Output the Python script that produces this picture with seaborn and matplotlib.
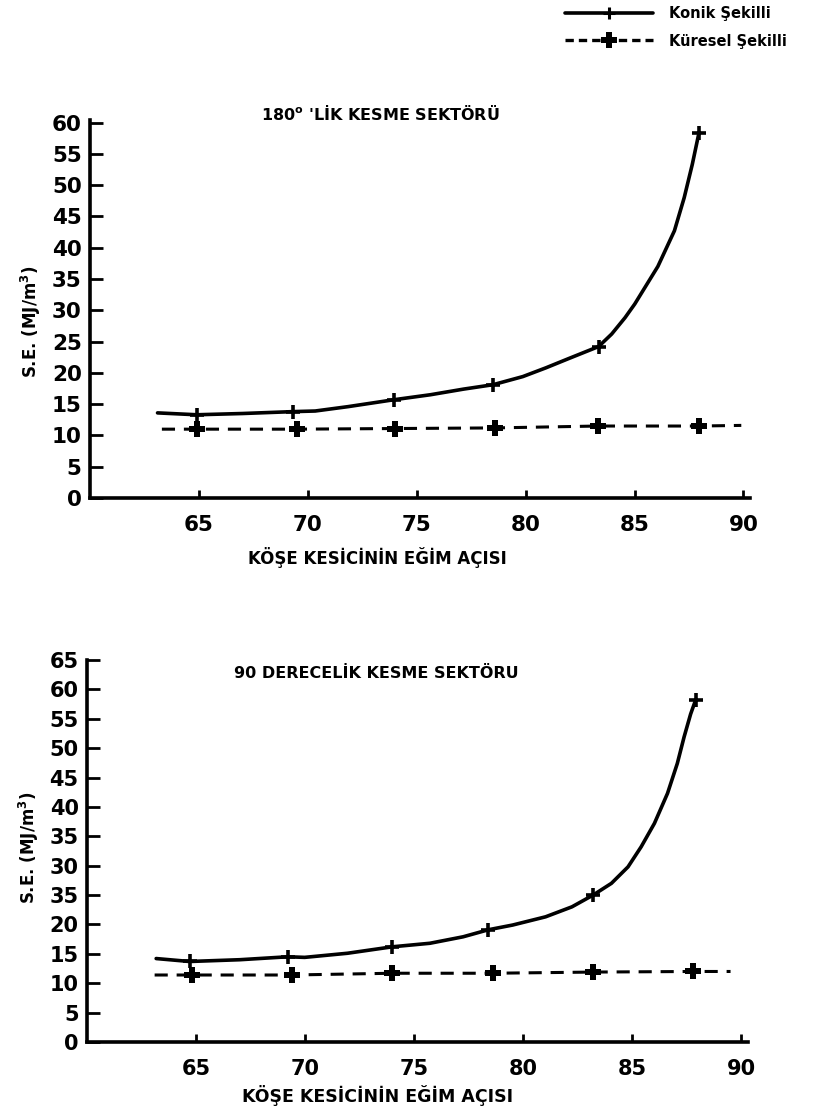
import matplotlib
matplotlib.use("Agg")
import matplotlib.pyplot as plt
from matplotlib.lines import Line2D
import seaborn as sns

# ---------------- data ----------------
# Top panel: 180° cutting sector
top_konik_x = [64.9, 69.3, 73.95, 78.5, 83.35, 87.96]
top_konik_y = [13.3, 13.8, 15.7, 18.1, 24.2, 58.4]
top_konik_trace_x = [63.1, 64.9, 67.0, 69.3, 70.34, 71.85, 73.95, 75.63, 77.15, 78.5,
                     79.87, 80.93, 81.99, 83.35, 83.95, 84.56, 85.01, 86.07,
                     86.83, 87.28, 87.65, 87.96]
top_konik_trace_y = [13.6, 13.3, 13.5, 13.8, 13.9, 14.6, 15.7, 16.5, 17.4, 18.1,
                     19.4, 20.8, 22.3, 24.2, 26.2, 28.8, 31.0, 37.0,
                     42.7, 48.0, 53.3, 58.4]
top_kuresel_x = [64.9, 69.5, 74.0, 78.6, 83.3, 87.95]
top_kuresel_y = [11.0, 11.0, 11.1, 11.2, 11.5, 11.5]
top_kuresel_trace_x = [63.3, 64.9, 69.5, 74.0, 78.6, 83.3, 87.95, 89.9]
top_kuresel_trace_y = [11.0, 11.0, 11.0, 11.1, 11.2, 11.5, 11.5, 11.6]

# Bottom panel: 90 degree cutting sector
bot_konik_x = [64.7, 69.2, 74.0, 78.4, 83.2, 87.9]
bot_konik_y = [13.7, 14.5, 16.2, 19.1, 25.0, 58.2]
bot_konik_trace_x = [63.17, 64.7, 67.0, 69.2, 69.98, 71.94, 74.0, 75.72, 77.24, 78.4,
                     79.51, 81.02, 82.23, 83.2, 84.04, 84.8, 85.4, 86.01,
                     86.61, 87.06, 87.37, 87.67, 87.9]
bot_konik_trace_y = [14.2, 13.7, 14.0, 14.5, 14.4, 15.1, 16.2, 16.8, 17.9, 19.1,
                     19.9, 21.3, 23.0, 25.0, 27.0, 29.8, 33.2, 37.2,
                     42.3, 47.4, 51.9, 55.8, 58.2]
bot_kuresel_x = [64.8, 69.4, 74.0, 78.6, 83.2, 87.8]
bot_kuresel_y = [11.4, 11.4, 11.7, 11.7, 11.9, 12.0]
bot_kuresel_trace_x = [63.1, 64.8, 69.4, 74.0, 78.6, 83.2, 87.8, 89.5]
bot_kuresel_trace_y = [11.4, 11.4, 11.4, 11.7, 11.7, 11.9, 12.0, 12.0]

x_ticks = [65, 70, 75, 80, 85, 90]
top_y_ticks = [0, 5, 10, 15, 20, 25, 30, 35, 40, 45, 50, 55, 60]
top_y_labels = ["0", "5", "10", "15", "20", "25", "30", "35", "40", "45", "50", "55", "60"]
bot_y_ticks = [0, 5, 10, 15, 20, 25, 30, 35, 40, 45, 50, 55, 60, 65]
bot_y_labels = ["0", "5", "10", "15", "20", "35", "30", "35", "40", "45", "50", "55", "60", "65"]

top_title = "180$^{\\mathbf{o}}$ 'LİK KESME SEKTÖRÜ"
bot_title = "90 DERECELİK KESME SEKTÖRU"
x_label = "KÖŞE KESİCİNİN EĞİM AÇISI"
y_label = "S.E. (MJ/m$^{\\mathbf{3}}$)"
legend_labels = ["Konik Şekilli", "Küresel Şekilli"]

# ---------------- style ----------------
sns.set_style("ticks")
plt.rcParams["font.family"] = ["DejaVu Sans"]
plt.rcParams["mathtext.default"] = "bf"
for k in ["text.color", "axes.labelcolor", "xtick.color", "ytick.color",
          "axes.edgecolor"]:
    plt.rcParams[k] = "black"

fig = plt.figure(figsize=(8.14, 11.10), dpi=100)
ax1 = fig.add_axes([90 / 814, 612 / 1110, 660 / 814, 378 / 1110])
ax2 = fig.add_axes([87 / 814, 68 / 1110, 661 / 814, 382 / 1110])


def draw(ax, kx, ky, ktx, kty, cx, cy, ctx, cty, yticks, ylabels, ymax, tsize):
    sns.lineplot(x=ktx, y=kty, ax=ax, color="black", linewidth=2.6,
                 sort=False, estimator=None)
    sns.lineplot(x=ctx, y=cty, ax=ax, color="black", linewidth=2.2,
                 sort=False, estimator=None, dashes=False, linestyle=(0, (4.3, 2.9)))
    sns.scatterplot(x=kx, y=ky, ax=ax, color="black", marker="+", s=115,
                    linewidth=2.6, zorder=5)
    sns.scatterplot(x=cx, y=cy, ax=ax, color="black", marker="P", s=140,
                    linewidth=0, zorder=5)
    ax.set_xlim(60, 90.3)
    ax.set_ylim(0, ymax)
    ax.set_xticks(x_ticks)
    ax.set_xticklabels([str(t) for t in x_ticks], fontsize=tsize, fontweight="bold")
    ax.set_yticks(yticks)
    ax.set_yticklabels(ylabels, fontsize=tsize, fontweight="bold")
    ax.tick_params(axis="y", direction="in", length=9, width=2, pad=6)
    ax.tick_params(axis="x", direction="in", length=6, width=2, pad=12)
    for s in ["top", "right"]:
        ax.spines[s].set_visible(False)
    for s in ["left", "bottom"]:
        ax.spines[s].set_linewidth(2.6)
        ax.spines[s].set_color("black")
    ax.set_xlabel("")
    ax.set_ylabel("")


draw(ax1, top_konik_x, top_konik_y, top_konik_trace_x, top_konik_trace_y,
     top_kuresel_x, top_kuresel_y, top_kuresel_trace_x, top_kuresel_trace_y,
     top_y_ticks, top_y_labels, 60.4, 15.5)
draw(ax2, bot_konik_x, bot_konik_y, bot_konik_trace_x, bot_konik_trace_y,
     bot_kuresel_x, bot_kuresel_y, bot_kuresel_trace_x, bot_kuresel_trace_y,
     bot_y_ticks, bot_y_labels, 65, 15)

# titles and axis labels
fig.text(380 / 814, 1 - 113 / 1110, top_title, ha="center", va="center",
         fontsize=11.5, fontweight="bold")
fig.text(376 / 814, 1 - 673 / 1110, bot_title, ha="center", va="center",
         fontsize=11.5, fontweight="bold")
fig.text(377 / 814, 1 - 557 / 1110, x_label, ha="center", va="center",
         fontsize=12, fontweight="bold")
fig.text(378 / 814, 1 - 1095 / 1110, x_label, ha="center", va="center",
         fontsize=12.5, fontweight="bold")
fig.text(31 / 814, 1 - 322 / 1110, y_label, ha="center", va="center",
         rotation=90, fontsize=12, fontweight="bold")
fig.text(29 / 814, 1 - 848 / 1110, y_label, ha="center", va="center",
         rotation=90, fontsize=12, fontweight="bold")

# legend
handles = [
    Line2D([], [], color="black", linewidth=2.6, marker="+", markersize=9,
           markeredgewidth=2.2),
    Line2D([], [], color="black", linewidth=2.4, linestyle=(0, (2.5, 1.5)),
           marker="P", markersize=12, markeredgewidth=0),
]
fig.legend(handles, legend_labels, loc="upper right",
           bbox_to_anchor=(800 / 814, 1 + 7 / 1110), frameon=False,
           handlelength=6.0, numpoints=1, labelspacing=0.85, handletextpad=1.1,
           prop={"weight": "bold", "size": 10.5})

fig.savefig("out.png", dpi=100, facecolor="white")
